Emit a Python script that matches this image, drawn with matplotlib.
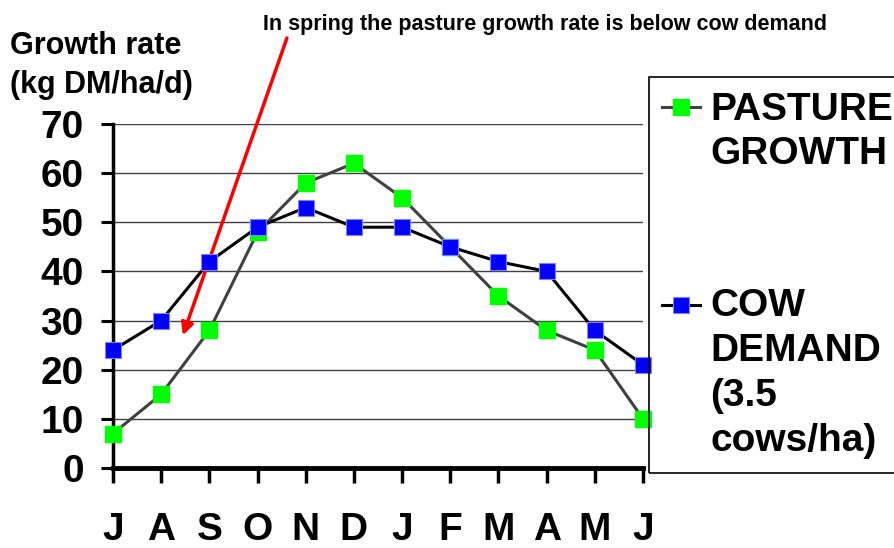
import numpy as np
import matplotlib.pyplot as plt
from matplotlib.lines import Line2D
from matplotlib.patches import Rectangle

plt.rcParams['font.family'] = ['Liberation Sans', 'DejaVu Sans']
plt.rcParams['font.weight'] = 'bold'

months = ['J', 'A', 'S', 'O', 'N', 'D', 'J', 'F', 'M', 'A', 'M', 'J']
pasture_growth = [7, 15, 28, 48, 58, 62, 55, 45, 35, 28, 24, 10]
cow_demand = [24, 30, 42, 49, 53, 49, 49, 45, 42, 40, 28, 21]

W, H = 895, 548


def fx(px):
    return px / W


def fy(py):
    return 1 - py / H


fig = plt.figure(figsize=(W / 100, H / 100), dpi=100)
ax = fig.add_axes([fx(113), fy(468), (643 - 113) / W, (468 - 124) / H])

x = np.arange(len(months))
ax.plot(x, pasture_growth, color='#404040', lw=2.2, marker='s', ms=11.5,
        mfc='#00ff00', mec='#00ff00', clip_on=False, zorder=3)
ax.plot(x, cow_demand, color='black', lw=2.2, marker='s', ms=11.5,
        mfc='#0000ff', mec='#8080ff', mew=0.8, clip_on=False, zorder=4)

ax.set_xlim(0, 11)
ax.set_ylim(0, 70)
ax.set_yticks(range(0, 71, 10))
ax.set_xticks(x)
ax.set_xticklabels(months)
ax.yaxis.grid(True, color='#404040', lw=1)
ax.set_axisbelow(True)
for s in ['top', 'right']:
    ax.spines[s].set_visible(False)
ax.spines['left'].set_linewidth(2.5)
ax.spines['bottom'].set_linewidth(3.5)
ax.tick_params(axis='y', direction='out', length=9, width=2.2, labelsize=28, pad=12)
ax.tick_params(axis='x', direction='out', length=11, width=2.5, labelsize=28, pad=21)

# y label, top left
fig.text(fx(10), fy(31), 'Growth rate\n(kg DM/ha/d)', fontsize=22, fontweight='bold',
         ha='left', va='top', linespacing=1.38)

# annotation
fig.text(fx(545), fy(30), 'In spring the pasture growth rate is below cow demand',
         fontsize=15.5, fontweight='bold', ha='center', va='baseline')
ax.annotate('', xy=(1.45, 27), xytext=(3.61, 87.5), annotation_clip=False,
            arrowprops=dict(arrowstyle='-|>', color='#ff0000', lw=2.5,
                            mutation_scale=18, shrinkA=0, shrinkB=0))

# legend box
fig.patches.append(Rectangle((fx(649), fy(473)), (W + 10 - 649) / W, (473 - 77) / H,
                             transform=fig.transFigure, fill=False, ec='black', lw=1.2,
                             clip_on=False))
fig.lines.append(Line2D([fx(662), fx(700)], [fy(107), fy(107)], transform=fig.transFigure,
                        color='#404040', lw=2.2))
fig.lines.append(Line2D([fx(681)], [fy(107)], transform=fig.transFigure, ls='none',
                        marker='s', ms=11.5, mfc='#00ff00', mec='#00ff00'))
fig.lines.append(Line2D([fx(662), fx(700)], [fy(305), fy(305)], transform=fig.transFigure,
                        color='black', lw=2.2))
fig.lines.append(Line2D([fx(681)], [fy(305)], transform=fig.transFigure, ls='none',
                        marker='s', ms=11.5, mfc='#0000ff', mec='#8080ff', mew=0.8))
fig.text(fx(710), fy(92), 'PASTURE\nGROWTH', fontsize=28, fontweight='bold',
         ha='left', va='top', linespacing=1.3)
fig.text(fx(710), fy(288), 'COW\nDEMAND\n(3.5\ncows/ha)', fontsize=28, fontweight='bold',
         ha='left', va='top', linespacing=1.32)

fig.savefig('out.png', dpi=100)
